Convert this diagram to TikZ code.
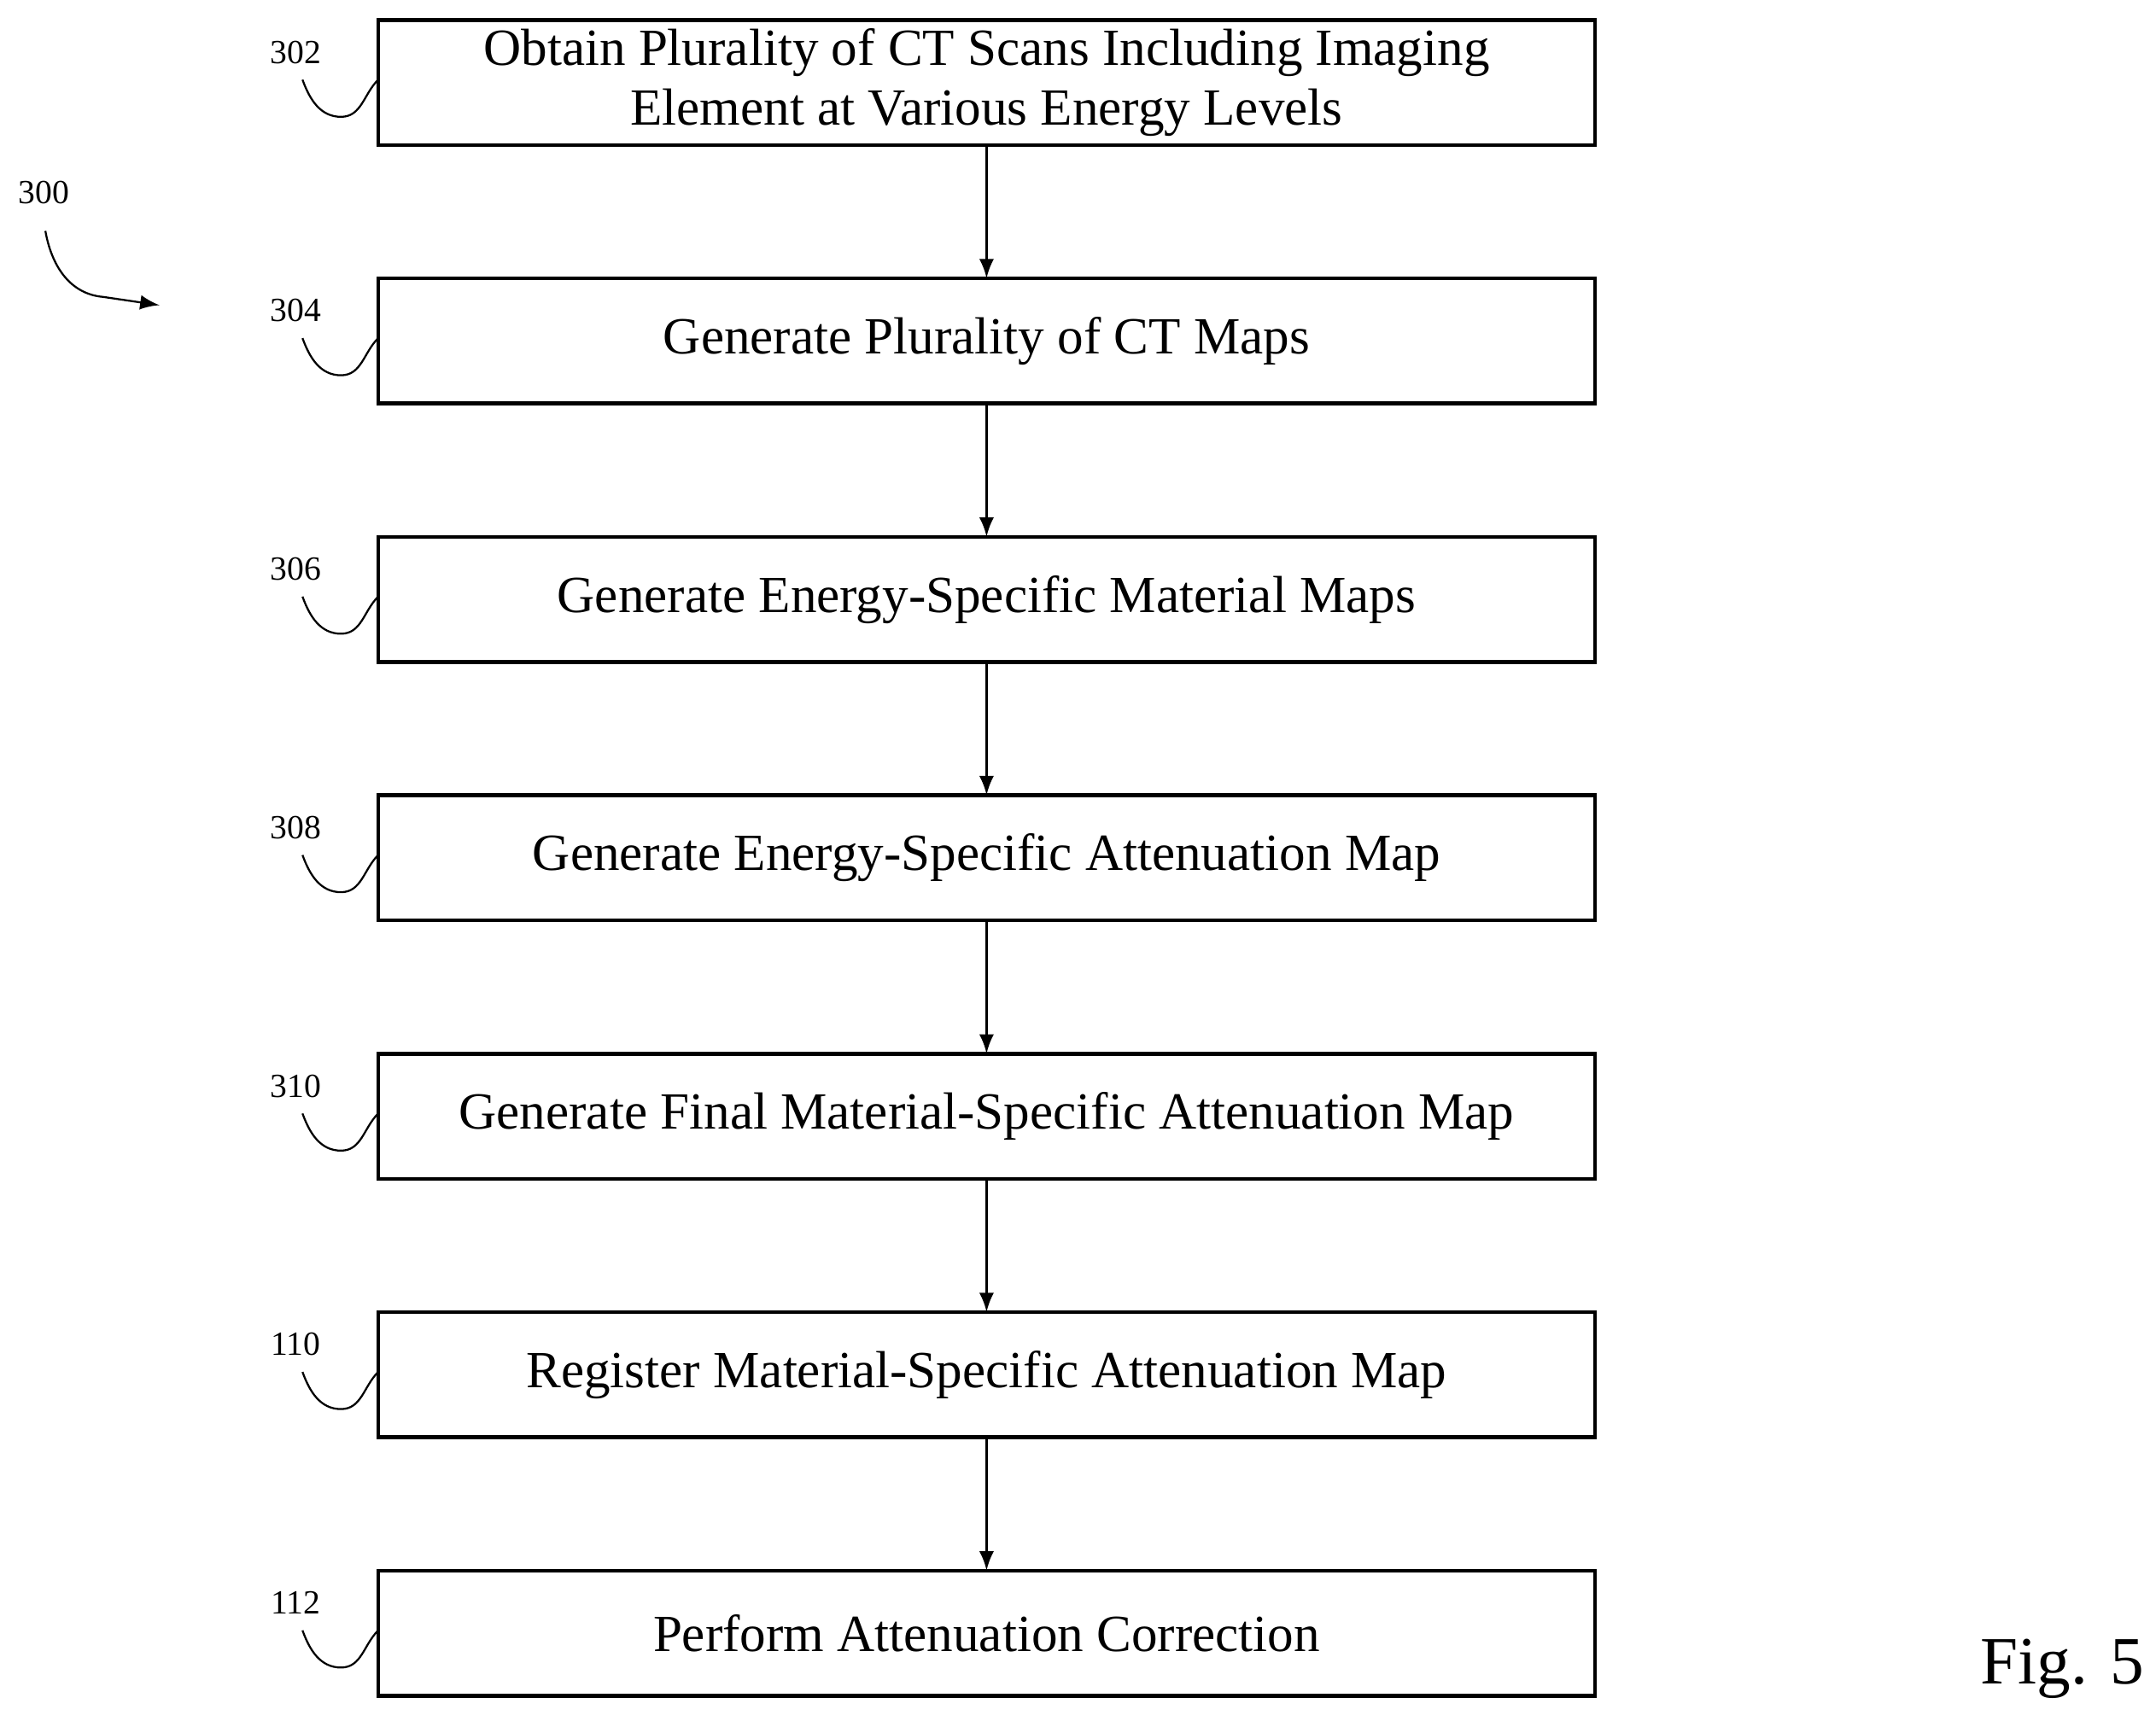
\documentclass[tikz,border=0pt]{standalone}
\usepackage{fontspec}
\setmainfont{Liberation Serif}
\usetikzlibrary{positioning,arrows}

\begin{document}
\begin{tikzpicture}
	\tikzstyle{every node}=[font=\fontsize{10.8}{12.5}\selectfont]
	\tikzstyle{stepbox}=[draw=black, thick, minimum width=8.85cm, minimum height=0.91cm, align=center, inner sep=1pt, outer sep=0pt]
	\tikzstyle{reflabel}=[font=\fontsize{7}{8}\selectfont]

	\useasboundingbox (0,0) rectangle (15.68,12.56);

	\node[stepbox] (s302) at (7.175,11.96) {Obtain Plurality of CT Scans Including Imaging\\Element at Various Energy Levels};
	\node[stepbox, below=0.97cm of s302] (s304) {Generate Plurality of CT Maps};
	\node[stepbox, below=0.97cm of s304] (s306) {Generate Energy-Specific Material Maps};
	\node[stepbox, below=0.97cm of s306] (s308) {Generate Energy-Specific Attenuation Map};
	\node[stepbox, below=0.97cm of s308] (s310) {Generate Final Material-Specific Attenuation Map};
	\node[stepbox, below=0.97cm of s310] (s110) {Register Material-Specific Attenuation Map};
	\node[stepbox, below=0.97cm of s110] (s112) {Perform Attenuation Correction};

	% connectors
	\foreach \a/\b in {s302/s304, s304/s306, s306/s308, s308/s310, s310/s110, s110/s112}
		\draw[-latex] (\a) -- (\b);

	% reference numerals
	\foreach \n in {302,304,306,308,310,110,112} {
		\node[reflabel] (l\n) at ([xshift=-0.6cm, yshift=0.22cm]s\n.west) {\n};
		\draw ([xshift=-0.55cm, yshift=0.02cm]s\n.west) to[out=-70,in=180] ([xshift=-0.27cm, yshift=-0.25cm]s\n.west)
			to[out=0,in=-135] ([yshift=0.02cm]s\n.west);
	}

	% figure numeral
	\node[reflabel] (l300) at (0.32,11.16) {300};
	\coordinate (a300) at (1.16,10.34);
	\draw[-latex] (0.33,10.88) to[out=-80,in=175] (0.75,10.4) -- (a300);

	\node[font=\fontsize{14}{15}\selectfont] (fig) at (15.0,0.42) {Fig. 5};
\end{tikzpicture}
\end{document}
